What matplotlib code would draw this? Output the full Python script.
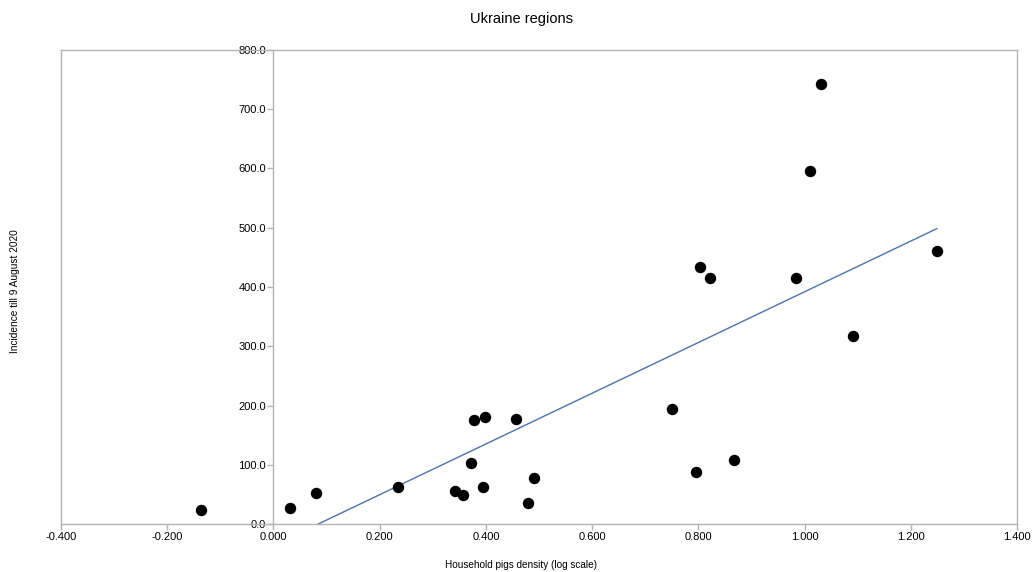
import numpy as np
import matplotlib.pyplot as plt

plt.rcParams['font.family'] = ['Liberation Sans', 'DejaVu Sans']

# household pigs density (log10) vs incidence per region
density_log = [-0.136, 0.031, 0.080, 0.234, 0.342, 0.357, 0.371, 0.378,
               0.398, 0.394, 0.456, 0.480, 0.491, 0.750, 0.796, 0.868,
               0.804, 0.821, 0.983, 1.010, 1.031, 1.092, 1.249]
incidence = [23, 27, 52, 63, 56, 49, 103, 175,
             181, 63, 177, 36, 78, 194, 87, 108,
             433, 416, 416, 595, 743, 318, 461]

x = np.array(density_log)
y = np.array(incidence)
slope, intercept = np.polyfit(x, y, 1)

fig = plt.figure(figsize=(10.34, 5.72), dpi=100)
ax = fig.add_axes([0.059, 0.0839, 0.9246, 0.8287])

grey = '#b3b3b3'
xs = np.array([x.min(), x.max()])
ax.plot(xs, slope * xs + intercept, color='#4a72b0', lw=1.0, zorder=2)
ax.scatter(x, y, s=52, color='black', zorder=3)

ax.set_xlim(-0.4, 1.4)
ax.set_ylim(0, 800)
ax.set_xticks(np.arange(-0.4, 1.41, 0.2))
ax.set_yticks(np.arange(0, 801, 100))
ax.xaxis.set_major_formatter(plt.FormatStrFormatter('%.3f'))
ax.yaxis.set_major_formatter(plt.FormatStrFormatter('%.1f'))

# y axis crosses at x = 0, box drawn around the plot area
ax.spines['left'].set_position(('data', 0))
for s in ax.spines.values():
    s.set_color(grey)
    s.set_linewidth(1.0)
ax.axvline(-0.4, color=grey, lw=1.0, clip_on=False)

ax.tick_params(axis='both', colors=grey, length=4, width=1.0,
               labelsize=8, labelcolor='black', pad=1.5)

fig.text(0.504, 0.966, 'Ukraine regions', ha='center', va='center', fontsize=10.5)
fig.text(0.504, 0.0122, 'Household pigs density (log scale)', ha='center', va='center',
         fontsize=7.2)
fig.text(0.0145, 0.491, 'Incidence till 9 August 2020', rotation=90, ha='center',
         va='center', fontsize=7.3)

fig.savefig('out.png', dpi=100)
